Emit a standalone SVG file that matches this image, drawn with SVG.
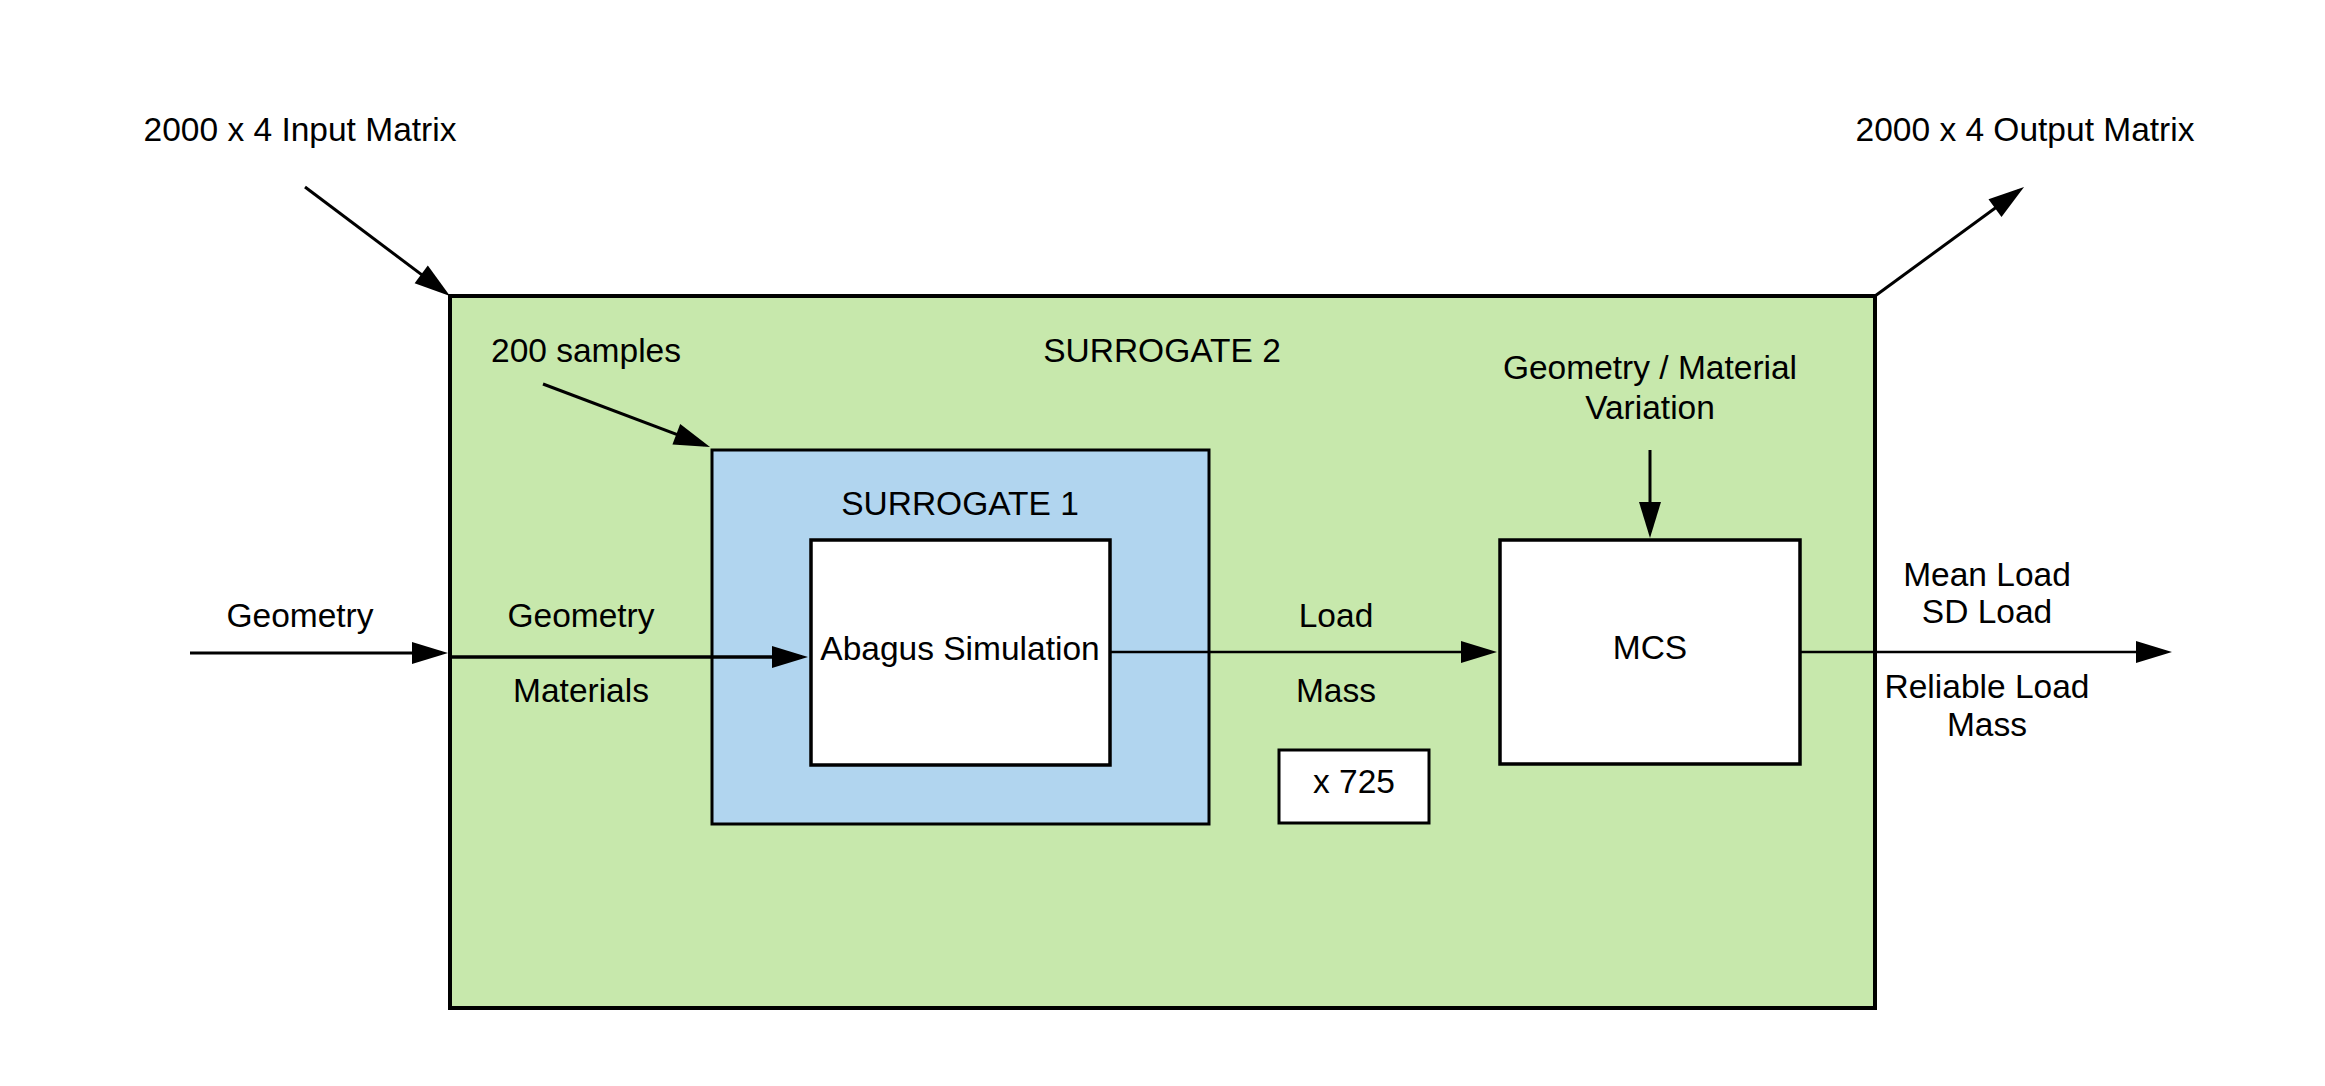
<svg xmlns="http://www.w3.org/2000/svg" width="2325" height="1086" viewBox="0 0 2325 1086">
  <style>
    text { font-family: "Liberation Sans", Arial, sans-serif; font-size: 33.5px; fill: #000; text-anchor: middle; }
    .box { stroke: #000; }
    .conn { stroke: #000; fill: none; }
  </style>
  <defs>
    <marker id="arrow" markerUnits="userSpaceOnUse" markerWidth="36" markerHeight="22" refX="30" refY="11" orient="auto" overflow="visible">
      <path d="M0,0 L36,11 L0,22 z" fill="#000"/>
    </marker>
  </defs>
  <rect width="2325" height="1086" fill="#fff"/>

  <g id="surrogate2">
    <rect class="box" x="450" y="296" width="1425" height="712" fill="#c7e8ac" stroke-width="4"/>
    <text x="1162" y="362">SURROGATE 2</text>
  </g>

  <g id="surrogate1">
    <rect class="box" x="712" y="450" width="497" height="374" fill="#b1d5ef" stroke-width="3"/>
    <text x="960" y="515">SURROGATE 1</text>
  </g>

  <g id="abagus">
    <rect class="box" x="811" y="540" width="299" height="225" fill="#fff" stroke-width="3.5"/>
    <text x="960" y="660">Abagus Simulation</text>
  </g>

  <g id="mcs">
    <rect class="box" x="1500" y="540" width="300" height="224" fill="#fff" stroke-width="3.5"/>
    <text x="1650" y="659">MCS</text>
  </g>

  <g id="x725">
    <rect class="box" x="1279" y="750" width="150" height="73" fill="#fff" stroke-width="3"/>
    <text x="1354" y="793">x 725</text>
  </g>

  <g id="labels">
    <text x="300" y="141">2000 x 4 Input Matrix</text>
    <text x="2025" y="141">2000 x 4 Output Matrix</text>
    <text x="586" y="362">200 samples</text>
    <text x="1650" y="379">Geometry / Material</text>
    <text x="1650" y="419">Variation</text>
    <text x="300" y="627">Geometry</text>
    <text x="581" y="627">Geometry</text>
    <text x="581" y="702">Materials</text>
    <text x="1336" y="627">Load</text>
    <text x="1336" y="702">Mass</text>
    <text x="1987" y="586">Mean Load</text>
    <text x="1987" y="623">SD Load</text>
    <text x="1987" y="698">Reliable Load</text>
    <text x="1987" y="736">Mass</text>
  </g>

  <g id="connectors">
    <line class="conn" x1="305" y1="187" x2="445.2" y2="292.4" stroke-width="3" marker-end="url(#arrow)"/>
    <line class="conn" x1="1875" y1="296" x2="2019.2" y2="190.5" stroke-width="3" marker-end="url(#arrow)"/>
    <line class="conn" x1="543" y1="384" x2="704.4" y2="444.9" stroke-width="3" marker-end="url(#arrow)"/>
    <line class="conn" x1="190" y1="653" x2="442" y2="653" stroke-width="3" marker-end="url(#arrow)"/>
    <line class="conn" x1="450" y1="657" x2="802" y2="657" stroke-width="3.5" marker-end="url(#arrow)"/>
    <line class="conn" x1="1110" y1="652" x2="1491" y2="652" stroke-width="2.5" marker-end="url(#arrow)"/>
    <line class="conn" x1="1800" y1="652" x2="2166" y2="652" stroke-width="2.5" marker-end="url(#arrow)"/>
    <line class="conn" x1="1650" y1="450" x2="1650" y2="532" stroke-width="3" marker-end="url(#arrow)"/>
  </g>
</svg>
